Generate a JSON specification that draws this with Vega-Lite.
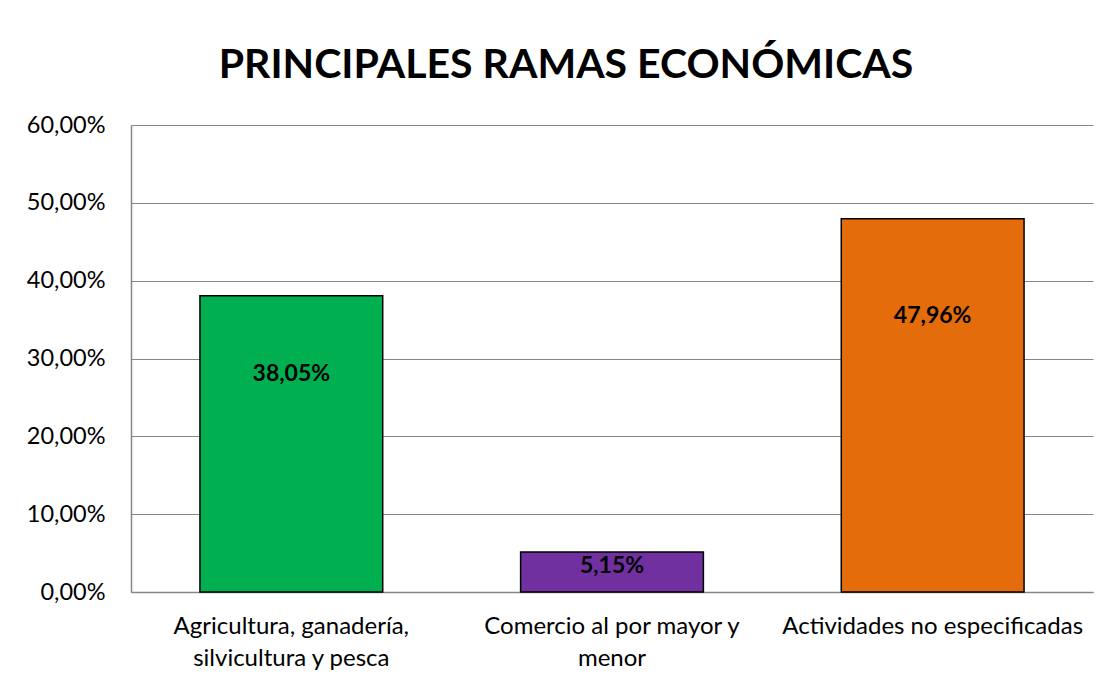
{
  "$schema": "https://vega.github.io/schema/vega-lite/v6.json",
  "width": 962,
  "height": 467,
  "autosize": {"type": "none"},
  "padding": {"left": 131, "top": 125, "right": 19, "bottom": 89},
  "background": "white",
  "config": {
    "locale": {"number": {"decimal": ",", "thousands": ".", "grouping": [3], "currency": ["", " €"]}},
    "view": {"stroke": null},
    "font": "Lato"
  },
  "title": {
    "text": "PRINCIPALES RAMAS ECONÓMICAS",
    "fontSize": 41,
    "fontWeight": "bold",
    "font": "Lato",
    "color": "black",
    "anchor": "middle",
    "dx": -46,
    "offset": 26
  },
  "data": {
    "values": [
      {"rama": "Agricultura, ganadería, silvicultura y pesca", "valor": 0.3805},
      {"rama": "Comercio al por mayor y menor", "valor": 0.0515},
      {"rama": "Actividades no especificadas", "valor": 0.4796}
    ]
  },
  "encoding": {
    "x": {
      "field": "rama",
      "type": "nominal",
      "sort": null,
      "scale": {"paddingInner": 0.43, "paddingOuter": 0.215},
      "axis": {
        "title": null,
        "labelAngle": 0,
        "labelFontSize": 24,
        "labelColor": "black",
        "labelPadding": 22,
        "labelLineHeight": 32,
        "labelLimit": 400,
        "ticks": false,
        "domainColor": "#868686",
        "domainWidth": 1.5,
        "labelExpr": "datum.label == 'Agricultura, ganadería, silvicultura y pesca' ? ['Agricultura, ganadería,', 'silvicultura y pesca'] : datum.label == 'Comercio al por mayor y menor' ? ['Comercio al por mayor y', 'menor'] : datum.label"
      }
    }
  },
  "layer": [
    {
      "mark": {"type": "bar", "stroke": "black", "strokeWidth": 1.5},
      "encoding": {
        "y": {
          "field": "valor",
          "type": "quantitative",
          "scale": {"domain": [0, 0.6], "nice": false},
          "axis": {
            "title": null,
            "format": ".2%",
            "values": [0, 0.1, 0.2, 0.3, 0.4, 0.5, 0.6],
            "grid": true,
            "gridColor": "#868686",
            "gridWidth": 1.2,
            "domainColor": "#868686",
            "domainWidth": 1.5,
            "ticks": false,
            "labelFontSize": 23.5,
            "labelColor": "black",
            "labelPadding": 26
          }
        },
        "color": {
          "field": "rama",
          "type": "nominal",
          "sort": null,
          "scale": {"range": ["#00B050", "#7030A0", "#E46C0A"]},
          "legend": null
        }
      }
    },
    {
      "transform": [{"calculate": "datum.valor * 0.75", "as": "pos"}],
      "mark": {"type": "text", "fontSize": 23, "fontWeight": "bold", "color": "black", "baseline": "middle", "dy": 4},
      "encoding": {
        "y": {"field": "pos", "type": "quantitative", "scale": {"domain": [0, 0.6], "nice": false}},
        "text": {"field": "valor", "type": "quantitative", "format": ".2%"}
      }
    }
  ]
}
